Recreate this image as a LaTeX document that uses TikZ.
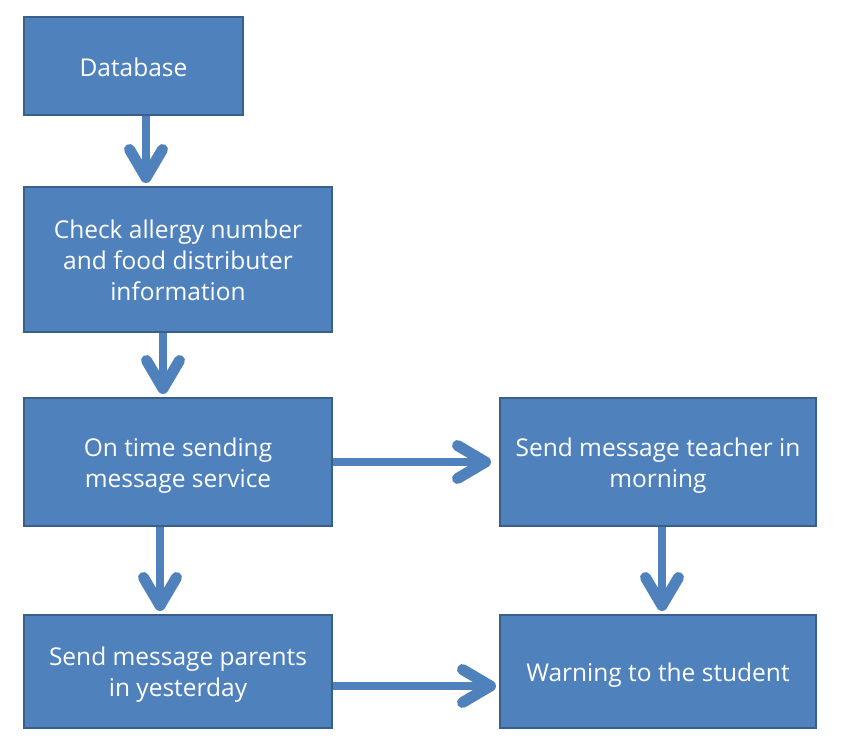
\documentclass[tikz,border=0pt]{standalone}
\usepackage{fontspec}
\setmainfont{Open Sans}
\usetikzlibrary{arrows.meta}
\definecolor{boxfill}{HTML}{4F81BD}
\definecolor{boxline}{HTML}{3A5F8B}
\newcommand\myfirst{\rule{0pt}{25pt}}
\begin{document}
\begin{tikzpicture}[x=1pt,y=-1pt,
  box/.style={draw=boxline,line width=2pt,fill=boxfill,text=white,align=center,
    inner sep=0pt,font=\fontsize{24.5}{31}\selectfont},
  conn/.style={draw=boxfill,line width=8pt,
    -{Straight Barb[length=28pt,width=33pt,line width=11pt,round]}}]
\useasboundingbox (0,0) rectangle (843,749);
\node[box,minimum width=219pt,minimum height=98pt] (db) at (133.5,66) {\rule{0pt}{22pt}Database};
\node[box,minimum width=308pt,minimum height=145pt] (chk) at (178,259.5) {\rule{0pt}{20pt}Check allergy number\\and food distributer\\information};
\node[box,minimum width=308pt,minimum height=128pt] (ont) at (178,462) {\myfirst On time sending\\message service};
\node[box,minimum width=316pt,minimum height=128pt] (tch) at (658,462) {\myfirst Send message teacher in\\morning};
\node[box,minimum width=308pt,minimum height=113pt] (par) at (178,671.5) {\myfirst Send message parents\\in yesterday};
\node[box,minimum width=316pt,minimum height=113pt] (wrn) at (658,671.5) {\myfirst Warning to the student};
\coordinate (c1) at (146,0);
\coordinate (c2) at (163,0);
\coordinate (c3) at (160,0);
\coordinate (c4) at (662,0);
\coordinate (r1) at (0,462);
\coordinate (r2) at (0,686);
\draw[conn,shorten >=3pt] (db.south -| c1) -- (chk.north -| c1);
\draw[conn,shorten >=3pt] (chk.south -| c2) -- (ont.north -| c2);
\draw[conn,shorten >=3pt] (ont.south -| c3) -- (par.north -| c3);
\draw[conn,shorten >=3pt] (tch.south -| c4) -- (wrn.north -| c4);
\draw[conn,shorten >=8pt] (ont.east |- r1) -- (tch.west |- r1);
\draw[conn,shorten >=3pt] (par.east |- r2) -- (wrn.west |- r2);
\end{tikzpicture}
\end{document}
